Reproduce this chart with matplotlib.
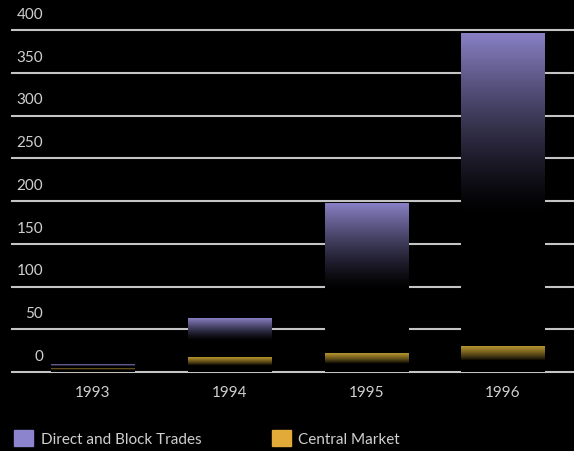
import numpy as np
import matplotlib.pyplot as plt
from matplotlib.patches import Rectangle
from matplotlib.colors import to_rgb
from matplotlib.transforms import blended_transform_factory

# values (millions)
years = ["1993", "1994", "1995", "1996"]
central_market = [5, 17, 22, 30]
direct_block = [4, 45, 175, 365]
y_ticks = [0, 50, 100, 150, 200, 250, 300, 350, 400]

purple = "#8c84cc"
gold = "#e2aa38"
text_color = "#d0d0d0"
plt.rcParams["font.family"] = ["Lato", "DejaVu Sans"]

fig = plt.figure(figsize=(5.74, 4.52), dpi=100, facecolor="black")
ax = fig.add_axes([12 / 574, 1 - 373 / 452, 562 / 574, 342 / 452])
ax.set_facecolor("black")
ax.axis("off")

x = np.arange(len(years))
width = 0.61


# bar that fades from the colour at the top down to black
def gradient_bar(x0, bottom, height, color, fade, power=1.2):
    rgb = np.array(to_rgb(color))
    t = np.linspace(0, 1, 256)[:, None]
    k = np.clip((t - fade) / (1 - fade), 0, 1) ** power
    img = k[..., None] * rgb
    ax.imshow(img, extent=(x0 - width / 2, x0 + width / 2, bottom, bottom + height),
              origin="lower", aspect="auto", interpolation="bilinear", zorder=3)


for xi, cm, db in zip(x, central_market, direct_block):
    gradient_bar(xi, 0, cm, "#b89530", 0.45, 0.8)
    gradient_bar(xi, cm, db, "#8880c4", 0.42, 1.3)

ax.set_xlim(-0.593, 3.52)
ax.set_ylim(0, 400)

# grid lines behind the bars
for v in y_ticks:
    ax.axhline(v, color="#c4c4c4", lw=1.5, zorder=1, clip_on=False)

trans = blended_transform_factory(ax.transAxes, ax.transData)
for v in y_ticks:
    ax.text(0.055, v + 19, str(v), ha="right", va="center", transform=trans,
            fontsize=11, color=text_color)

for xi, yr in zip(x, years):
    ax.text(xi, -23, yr, ha="center", va="center", fontsize=11, color=text_color)

# legend
fig.add_artist(Rectangle((14 / 574, 1 - 447 / 452), 19 / 574, 16 / 452,
                         transform=fig.transFigure, color=purple))
fig.text(41 / 574, 1 - 440 / 452, "Direct and Block Trades", ha="left", va="center",
         fontsize=11, color=text_color)
fig.add_artist(Rectangle((272 / 574, 1 - 447 / 452), 19 / 574, 16 / 452,
                         transform=fig.transFigure, color=gold))
fig.text(298 / 574, 1 - 440 / 452, "Central Market", ha="left", va="center",
         fontsize=11, color=text_color)

fig.savefig("out.png", dpi=100, facecolor="black")
